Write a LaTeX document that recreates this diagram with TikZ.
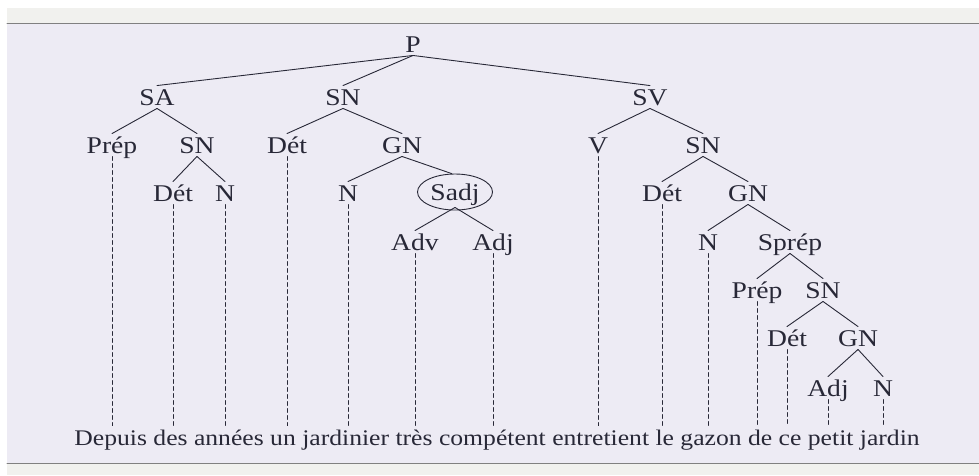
\documentclass[tikz,border=0pt]{standalone}
\usepackage{fontspec}
\setmainfont[FakeStretch=1.15]{Liberation Serif}
\usetikzlibrary{shapes.geometric}
\definecolor{fond}{RGB}{237,235,244}
\definecolor{bande}{RGB}{241,241,238}
\definecolor{encre}{RGB}{40,40,55}
\begin{document}
\begin{tikzpicture}[x=1pt, y=-1pt, line join=round, line cap=round,
	font=\fontsize{24}{28}\selectfont, color=encre, line width=0.9pt,
	cat/.style={inner sep=3pt, text height=16pt, text depth=0pt},
	leaf/.style={dashed, dash pattern=on 4pt off 3pt, line width=0.8pt}]
	\def\W{979} \def\H{475}
	\useasboundingbox (0,0) rectangle (\W,\H);
	% fond de la page
	\fill[bande] (7,8) rectangle (\W,23);
	\fill[fond] (7,23) rectangle (\W,463);
	\fill[bande] (7,463) rectangle (\W,\H);
	\draw[gray, line width=1pt] (7,23) -- (\W,23);
	\draw[gray, line width=1pt] (7,463) -- (\W,463);
	% categories
	\node[cat] (P) at (413,44) {P};
	\node[cat] (SA) at (157,97) {SA};
	\node[cat] (SNb) at (343,97) {SN};
	\node[cat] (SV) at (650,97) {SV};
	\node[cat] (PrepA) at (112,145) {Prép};
	\node[cat] (SNa) at (197,145) {SN};
	\node[cat] (DetB) at (287,145) {Dét};
	\node[cat] (GNb) at (402,145) {GN};
	\node[cat] (V) at (598,145) {V};
	\node[cat] (SNc) at (703,145) {SN};
	\node[cat] (DetA) at (173,193) {Dét};
	\node[cat] (NA) at (225,193) {N};
	\node[cat] (NB) at (348,193) {N};
	\node[draw, ellipse, inner sep=1pt, minimum width=75pt, minimum height=36pt, text height=16pt, text depth=0pt] (Sadj) at (455,192) {Sadj};
	\coordinate (Sadjb) at ([yshift=3pt]Sadj.south);
	\node[cat] (DetC) at (662,193) {Dét};
	\node[cat] (GNc) at (748,193) {GN};
	\node[cat] (Adv) at (415,242) {Adv};
	\node[cat] (AdjB) at (493,242) {Adj};
	\node[cat] (NC) at (708,242) {N};
	\node[cat] (Sprep) at (790,242) {Sprép};
	\node[cat] (PrepD) at (757,290) {Prép};
	\node[cat] (SNd) at (823,290) {SN};
	\node[cat] (DetD) at (787,338) {Dét};
	\node[cat] (GNd) at (858,338) {GN};
	\node[cat] (AdjD) at (828,388) {Adj};
	\node[cat] (ND) at (883,388) {N};
	\node[cat, font=\fontsize{22.3}{26}\selectfont] (phrase) at (497,437) {Depuis des années un jardinier très compétent entretient le gazon de ce petit jardin};
	% branches
	\foreach \a/\b in {P/SA, P/SNb, P/SV, SA/PrepA, SA/SNa, SNa/DetA, SNa/NA, SNb/DetB, SNb/GNb,
		GNb/NB, SV/V, SV/SNc, SNc/DetC, SNc/GNc, GNc/NC, GNc/Sprep, Sprep/PrepD, Sprep/SNd,
		SNd/DetD, SNd/GNd, GNd/AdjD, GNd/ND}
		\draw (\a.south) -- (\b.north);
	\draw (GNb.south) -- (Sadj.100);
	\draw (Sadjb) -- (Adv.north);
	\draw (Sadjb) -- (AdjB.north);
	% pointilles vers les mots
	\foreach \n in {PrepA, DetA, NA, DetB, NB, Adv, AdjB, V, DetC, NC, PrepD, DetD, AdjD, ND}
		\draw[leaf] (\n.south) -- (\n.south |- phrase.north);
\end{tikzpicture}
\end{document}
